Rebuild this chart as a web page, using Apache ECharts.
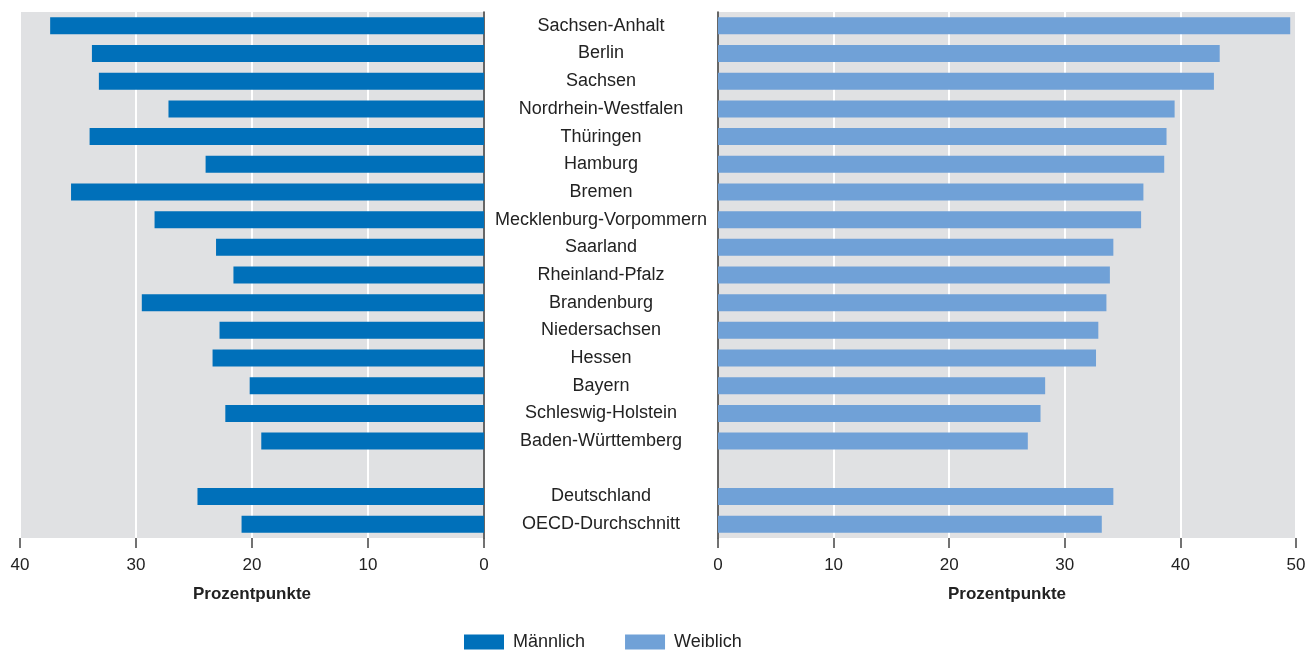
<!DOCTYPE html>
<html>
<head>
<meta charset="utf-8">
<script src="https://cdn.jsdelivr.net/npm/echarts@6/dist/echarts.min.js"></script>
<style>
  html, body { margin: 0; padding: 0; background: #fff; }
  #chart { width: 1309px; height: 650px; }
</style>
</head>
<body>
<div id="chart"></div>
<script>
// Kategorien (leerer Eintrag = Abstand vor Deutschland)
const laender = [
  'Sachsen-Anhalt', 'Berlin', 'Sachsen', 'Nordrhein-Westfalen', 'Thüringen',
  'Hamburg', 'Bremen', 'Mecklenburg-Vorpommern', 'Saarland', 'Rheinland-Pfalz',
  'Brandenburg', 'Niedersachsen', 'Hessen', 'Bayern', 'Schleswig-Holstein',
  'Baden-Württemberg', '', 'Deutschland', 'OECD-Durchschnitt'
]
const maennlich = [
  37.4, 33.8, 33.2, 27.2, 34.0, 24.0, 35.6, 28.4, 23.1, 21.6,
  29.5, 22.8, 23.4, 20.2, 22.3, 19.2, null, 24.7, 20.9
]
const weiblich = [
  49.5, 43.4, 42.9, 39.5, 38.8, 38.6, 36.8, 36.6, 34.2, 33.9,
  33.6, 32.9, 32.7, 28.3, 27.9, 26.8, null, 34.2, 33.2
]
const achsenName = 'Prozentpunkte'

const font = 'Liberation Sans, Arial, sans-serif'
const textColor = '#222'

let mychart = echarts.init(document.getElementById('chart'))

// gemeinsame Einstellungen der x-Achsen
const xAchse = (max, inverse, idx) => ({
  type: 'value',
  gridIndex: idx,
  min: 0,
  max: max,
  interval: 10,
  inverse: inverse,
  name: achsenName,
  nameLocation: 'middle',
  nameGap: 48,
  nameTextStyle: { fontFamily: font, fontSize: 17, fontWeight: 'bold', color: textColor },
  axisLine: { show: false },
  axisTick: { show: true, length: 10, lineStyle: { color: '#444', width: 1.5 } },
  axisLabel: { fontFamily: font, fontSize: 17, color: textColor, margin: 19 },
  splitLine: { show: true, lineStyle: { color: '#fff', width: 2 } }
})

mychart.setOption({
  animation: false,
  grid: [
    { left: 20, right: 825, top: 12, bottom: 112, show: true, backgroundColor: '#e0e1e3', borderWidth: 0 },
    { left: 718, right: 13, top: 12, bottom: 112, show: true, backgroundColor: '#e0e1e3', borderWidth: 0 }
  ],
  legend: {
    left: 459,
    top: 628,
    itemWidth: 40,
    itemHeight: 15,
    itemGap: 40,
    icon: 'rect',
    textStyle: { fontFamily: font, fontSize: 18, color: textColor, padding: [0, 0, 0, 4] },
    data: ['Männlich', 'Weiblich']
  },
  xAxis: [xAchse(40, true, 0), xAchse(50, false, 1)],
  yAxis: [
    {
      type: 'category',
      gridIndex: 0,
      position: 'right',
      inverse: true,
      data: laender,
      axisLine: { show: true, lineStyle: { color: '#333', width: 1.5 } },
      axisTick: { show: false },
      axisLabel: { show: false }
    },
    {
      type: 'category',
      gridIndex: 1,
      position: 'left',
      inverse: true,
      data: laender,
      axisLine: { show: true, lineStyle: { color: '#333', width: 1.5 } },
      axisTick: { show: false },
      // Ländernamen mittig zwischen den beiden Diagrammen
      axisLabel: {
        show: true,
        interval: 0,
        align: 'center',
        margin: 117,
        padding: [4, 0, 0, 0],
        fontFamily: font,
        fontSize: 18,
        color: textColor
      }
    }
  ],
  series: [
    {
      name: 'Männlich',
      type: 'bar',
      xAxisIndex: 0,
      yAxisIndex: 0,
      barWidth: 17,
      itemStyle: { color: '#0070ba' },
      data: maennlich
    },
    {
      name: 'Weiblich',
      type: 'bar',
      xAxisIndex: 1,
      yAxisIndex: 1,
      barWidth: 17,
      itemStyle: { color: '#70a1d7' },
      data: weiblich
    }
  ]
})
</script>
</body>
</html>
